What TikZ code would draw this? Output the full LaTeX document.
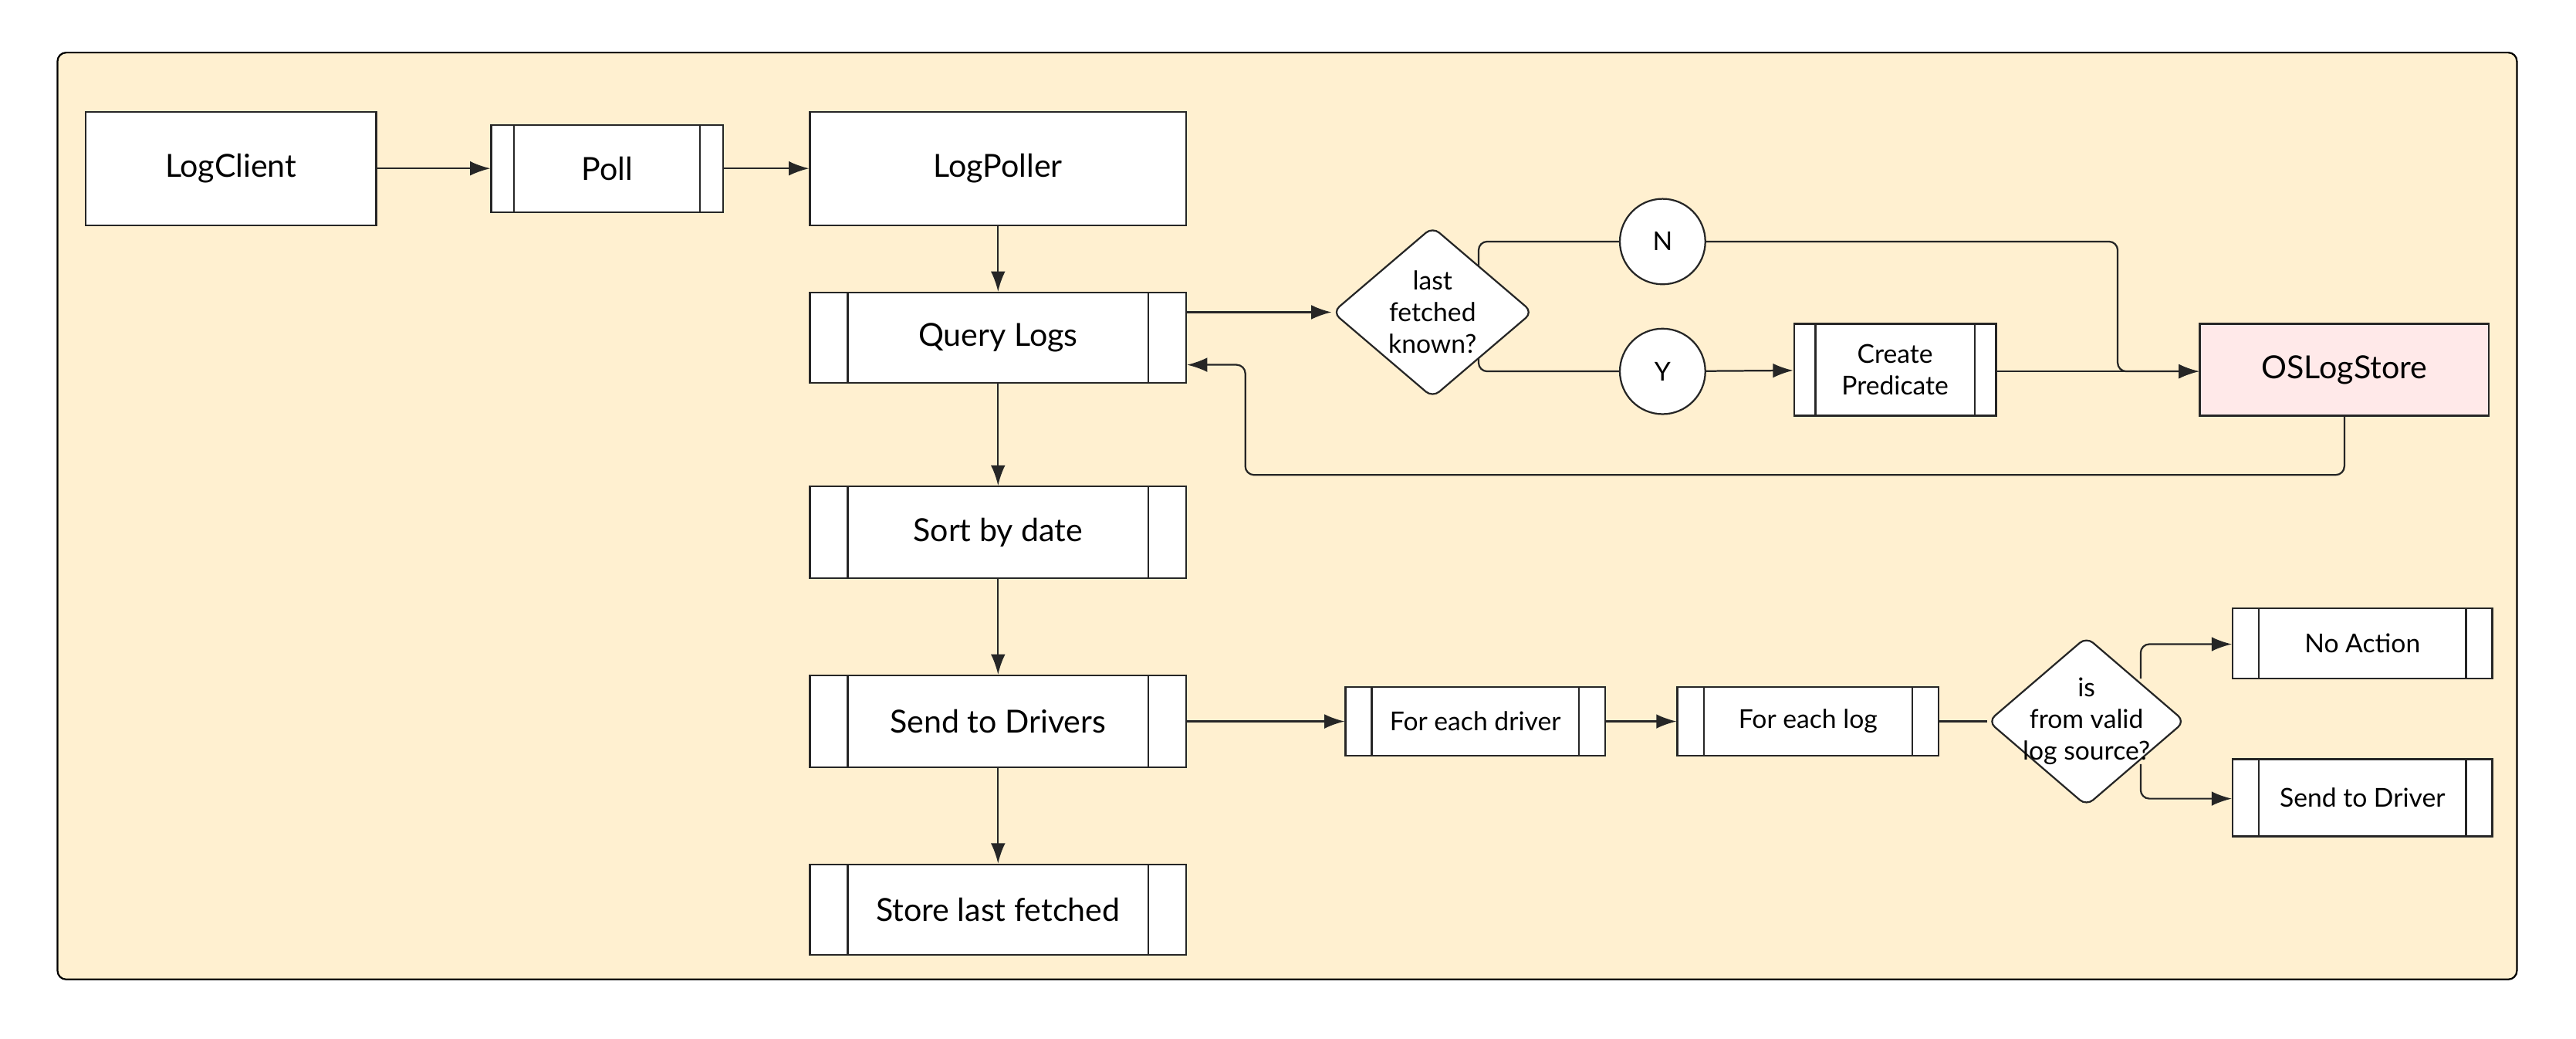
\documentclass[tikz,border=0pt]{standalone}
\usepackage{fontspec}
\setmainfont{Lato}
\usetikzlibrary{arrows.meta,shapes.geometric}
\begin{document}
\begin{tikzpicture}[x=0.02cm,y=-0.02cm,
  box/.style={draw=black!85,fill=white,line width=0.6pt,inner sep=0pt,font=\fontsize{11}{13}\selectfont,align=center},
  sbox/.style={box,font=\fontsize{9}{11}\selectfont},
  sub/.style={path picture={\draw[line width=0.6pt,black!85]
     ([xshift=#1*0.02cm]path picture bounding box.north west) -- ([xshift=#1*0.02cm]path picture bounding box.south west)
     ([xshift=-#1*0.02cm]path picture bounding box.north east) -- ([xshift=-#1*0.02cm]path picture bounding box.south east);}},
  dia/.style={diamond,draw=black!85,fill=white,line width=0.6pt,inner sep=0pt,rounded corners=3pt,font=\fontsize{9}{11}\selectfont,align=center},
  circ/.style={circle,draw=black!85,fill=white,line width=0.6pt,minimum size=52*0.02cm,inner sep=0pt,font=\fontsize{9}{11}\selectfont},
  arr/.style={-{Latex[length=7pt,width=5pt]},line width=0.6pt,black!85},
  ln/.style={line width=0.6pt,black!85,rounded corners=3pt}]
\useasboundingbox (0,0) rectangle (1568,632);
\draw[fill={rgb,255:red,255;green,240;blue,208},line width=0.6pt,rounded corners=3pt] (35,32) rectangle (1532,596);
% main column
\node[box,minimum width=177*0.02cm,minimum height=69*0.02cm] (client) at (140.5,102.5) {LogClient};
\node[box,sub=14,minimum width=141*0.02cm,minimum height=53*0.02cm] (poll) at (369.5,102.5) {Poll};
\node[box,minimum width=229*0.02cm,minimum height=69*0.02cm] (poller) at (607.5,102.5) {LogPoller};
\node[box,sub=23,minimum width=229*0.02cm,minimum height=55*0.02cm] (query) at (607.5,205.5) {Query Logs};
\node[box,sub=23,minimum width=229*0.02cm,minimum height=56*0.02cm] (sort) at (607.5,324) {Sort by date};
\node[box,sub=23,minimum width=229*0.02cm,minimum height=56*0.02cm] (send) at (607.5,439) {Send to Drivers};
\node[box,sub=23,minimum width=229*0.02cm,minimum height=55*0.02cm] (store) at (607.5,553.5) {Store last fetched};
% top branch
\node[dia,minimum width=122*0.02cm,minimum height=104*0.02cm] (d1) at (872,190) {last\\fetched\\known?};
\node[circ] (n) at (1012,147) {N};
\node[circ] (y) at (1012,226) {Y};
\node[sbox,sub=13,minimum width=123*0.02cm,minimum height=56*0.02cm] (pred) at (1153.5,225) {Create\\Predicate};
\node[box,fill={rgb,255:red,255;green,233;blue,233},minimum width=176*0.02cm,minimum height=56*0.02cm] (os) at (1427,225) {OSLogStore};
% bottom branch
\node[sbox,sub=16,minimum width=158*0.02cm,minimum height=42*0.02cm] (fd) at (898,439) {For each driver};
\node[sbox,sub=16,minimum width=159*0.02cm,minimum height=42*0.02cm] (fl) at (1100.5,439) {For each log};
\node[dia,inner sep=-7pt,minimum width=120*0.02cm,minimum height=103*0.02cm] (d2) at (1270,439) {is\\from valid\\log source?};
\node[sbox,sub=16,minimum width=158*0.02cm,minimum height=43*0.02cm] (na) at (1438,391.5) {No Action};
\node[sbox,sub=16,minimum width=158*0.02cm,minimum height=47*0.02cm] (sd) at (1438,485.5) {Send to Driver};
% connectors
\draw[arr] (client) -- (poll);
\draw[arr] (poll) -- (poller);
\draw[arr] (poller) -- (query);
\draw[arr] (query) -- (sort);
\draw[arr] (sort) -- (send);
\draw[arr] (send) -- (store);
\draw[arr] (query.east |- d1) -- (d1.west);
\draw[ln] (900,162) -- (900,147) -- (n.west);
\draw[ln,arr,rounded corners=3pt] (n.east) -- (1289,147) -- (1289,226) -- (os.west |- 0,226);
\draw[ln] (900,218) -- (900,226) -- (y.west);
\draw[arr] (y) -- (pred);
\draw[arr] (pred.east |- 0,226) -- (os.west |- 0,226);
\draw[ln,arr,rounded corners=3pt] (os.south) -- (1427,289) -- (758,289) -- (758,222) -- (query.east |- 0,222);
\draw[arr] (send.east) -- (fd.west);
\draw[arr] (fd) -- (fl);
\draw[ln] (fl.east) -- (d2.west);
\draw[ln,arr,rounded corners=3pt] (1303,413) -- (1303,392) -- (na.west |- 0,392);
\draw[ln,arr,rounded corners=3pt] (1303,465) -- (1303,486) -- (sd.west |- 0,486);
\end{tikzpicture}
\end{document}
